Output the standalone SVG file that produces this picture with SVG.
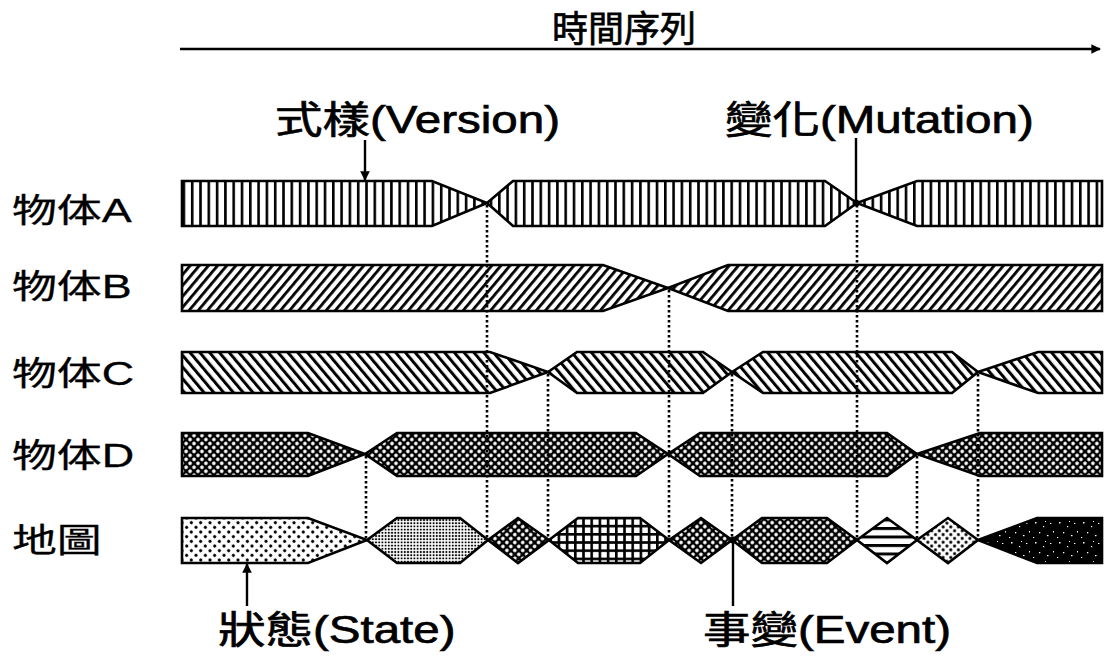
<svg xmlns="http://www.w3.org/2000/svg" width="1105" height="660" viewBox="0 0 1105 660">
<style>
.lbl{font-family:"Liberation Sans","Noto Sans CJK TC",sans-serif;fill:#000;stroke:#000;stroke-width:0.7}
.rl{font-family:"Liberation Sans","Noto Sans CJK TC",sans-serif;fill:#000;stroke:#000;stroke-width:0.3}
.seg{stroke:#000;stroke-width:2.6;stroke-linejoin:miter}
.dot{stroke:#000;stroke-width:2.6;stroke-dasharray:2.4 2.6;fill:none}
.ln{stroke:#000;stroke-width:2.4;fill:none}
</style>
<defs>
<pattern id="pA" patternUnits="userSpaceOnUse" width="8.3" height="10"><rect width="8.3" height="10" fill="#fff"/><rect x="0" y="0" width="2.6" height="10" fill="#000"/></pattern>
<pattern id="pB" patternUnits="userSpaceOnUse" width="7" height="10" patternTransform="rotate(40)"><rect width="7" height="10" fill="#fff"/><rect x="0" y="0" width="2.8" height="10" fill="#000"/></pattern>
<pattern id="pC" patternUnits="userSpaceOnUse" width="7.5" height="10" patternTransform="rotate(-40)"><rect width="7.5" height="10" fill="#fff"/><rect x="0" y="0" width="3" height="10" fill="#000"/></pattern>
<pattern id="pX" patternUnits="userSpaceOnUse" width="5.6" height="5.6" patternTransform="rotate(45)"><rect width="5.6" height="5.6" fill="#000"/><circle cx="2.8" cy="2.8" r="1.8" fill="#fff"/></pattern>
<pattern id="pDots" patternUnits="userSpaceOnUse" width="6.6" height="6.6" patternTransform="rotate(45)"><rect width="6.6" height="6.6" fill="#fff"/><circle cx="3.3" cy="3.3" r="1.6" fill="#000"/></pattern>
<pattern id="pFine" patternUnits="userSpaceOnUse" width="3.2" height="3.2"><rect width="3.2" height="3.2" fill="#fff"/><circle cx="1.6" cy="1.6" r="1.05" fill="#000"/></pattern>
<pattern id="pGrid" patternUnits="userSpaceOnUse" width="8.2" height="8.2"><rect width="8.2" height="8.2" fill="#fff"/><rect x="0" y="0" width="8.2" height="2.6" fill="#000"/><rect x="0" y="0" width="2.6" height="8.2" fill="#000"/></pattern>
<pattern id="pH" patternUnits="userSpaceOnUse" width="10" height="8.5"><rect width="10" height="8.5" fill="#fff"/><rect x="0" y="0" width="10" height="3" fill="#000"/></pattern>
<pattern id="pDots2" patternUnits="userSpaceOnUse" width="5.4" height="5.4" patternTransform="rotate(45)"><rect width="5.4" height="5.4" fill="#fff"/><circle cx="2.7" cy="2.7" r="1.6" fill="#000"/></pattern>
<pattern id="pStip" patternUnits="userSpaceOnUse" width="24" height="20"><rect width="24" height="20" fill="#000"/><rect x="3" y="2" width="1.5" height="1.5" fill="#fff"/><rect x="11" y="6" width="1.2" height="1.2" fill="#fff"/><rect x="18" y="3" width="1.4" height="1" fill="#fff"/><rect x="7" y="12" width="1.3" height="1.3" fill="#fff"/><rect x="15" y="15" width="1.5" height="1.2" fill="#fff"/><rect x="21" y="11" width="1" height="1.5" fill="#fff"/><rect x="1" y="17" width="1.2" height="1" fill="#fff"/><rect x="13" y="1" width="1" height="1" fill="#fff"/></pattern>
<marker id="ah" viewBox="0 0 10 10" refX="9" refY="5" markerWidth="4" markerHeight="4" orient="auto"><path d="M0,0 L10,5 L0,10 Z" fill="#000"/></marker>
</defs>
<rect width="1105" height="660" fill="#fff"/>

<g id="header">
<text class="lbl" x="624" y="42" font-size="36" text-anchor="middle">時間序列</text>
<line class="ln" x1="180" y1="49" x2="1100" y2="49" marker-end="url(#ah)"/>
</g>

<g id="row-labels">
<text class="rl" transform="translate(12,222) scale(1.36,1)" font-size="33">物体A</text>
<text class="rl" transform="translate(12,298) scale(1.36,1)" font-size="33">物体B</text>
<text class="rl" transform="translate(12,385) scale(1.36,1)" font-size="33">物体C</text>
<text class="rl" transform="translate(12,467) scale(1.36,1)" font-size="33">物体D</text>
<text class="rl" transform="translate(12,552) scale(1.36,1)" font-size="33">地圖</text>
</g>

<g id="objA">
<path class="seg" fill="url(#pA)" d="M182,181 L432,181 L487,203 L432,226 L182,226 Z"/>
<path class="seg" fill="url(#pA)" d="M487,203 L513,181 L825,181 L857,203 L825,226 L513,226 Z"/>
<path class="seg" fill="url(#pA)" d="M857,203 L917,181 L1102,181 L1102,226 L917,226 Z"/>
</g>
<g id="objB">
<path class="seg" fill="url(#pB)" d="M182,265 L603,265 L668,288 L603,311 L182,311 Z"/>
<path class="seg" fill="url(#pB)" d="M668,288 L728,265 L1102,265 L1102,311 L728,311 Z"/>
</g>
<g id="objC">
<path class="seg" fill="url(#pC)" d="M182,352 L490,352 L548,372 L490,393 L182,393 Z"/>
<path class="seg" fill="url(#pC)" d="M548,372 L577,352 L703,352 L732,372 L703,393 L577,393 Z"/>
<path class="seg" fill="url(#pC)" d="M732,372 L763,352 L952,352 L978,372 L952,393 L763,393 Z"/>
<path class="seg" fill="url(#pC)" d="M978,372 L1038,352 L1102,352 L1102,393 L1038,393 Z"/>
</g>
<g id="objD">
<path class="seg" fill="url(#pX)" d="M182,433 L308,433 L365,454 L308,476 L182,476 Z"/>
<path class="seg" fill="url(#pX)" d="M365,454 L397,433 L636,433 L668,454 L636,476 L397,476 Z"/>
<path class="seg" fill="url(#pX)" d="M668,454 L700,433 L887,433 L917,454 L887,476 L700,476 Z"/>
<path class="seg" fill="url(#pX)" d="M917,454 L980,433 L1102,433 L1102,476 L980,476 Z"/>
</g>
<g id="map">
<path class="seg" fill="url(#pDots)" d="M182,518 L308,518 L367,540 L308,563 L182,563 Z"/>
<path class="seg" fill="url(#pFine)" d="M367,540 L397,518 L460,518 L488,540 L460,563 L397,563 Z"/>
<path class="seg" fill="url(#pX)" d="M488,540 L518,518 L549,540 L518,563 Z"/>
<path class="seg" fill="url(#pGrid)" d="M549,540 L578,518 L640,518 L669,540 L640,563 L578,563 Z"/>
<path class="seg" fill="url(#pX)" d="M669,540 L701,518 L732,540 L701,563 Z"/>
<path class="seg" fill="url(#pX)" d="M732,540 L762,518 L827,518 L857,540 L827,563 L762,563 Z"/>
<path class="seg" fill="url(#pH)" d="M857,540 L887,518 L917,540 L887,563 Z"/>
<path class="seg" fill="url(#pDots2)" d="M917,540 L948,518 L978,540 L948,563 Z"/>
<path class="seg" fill="url(#pStip)" d="M978,540 L1037,518 L1102,518 L1102,563 L1037,563 Z"/>
</g>

<g id="connectors">
<line class="dot" x1="366" y1="456" x2="366" y2="538"/>
<line class="dot" x1="487" y1="205" x2="487" y2="538"/>
<line class="dot" x1="548" y1="374" x2="548" y2="538"/>
<line class="dot" x1="669" y1="290" x2="669" y2="538"/>
<line class="dot" x1="732" y1="374" x2="732" y2="538"/>
<line class="dot" x1="857" y1="205" x2="857" y2="538"/>
<line class="dot" x1="917" y1="456" x2="917" y2="538"/>
<line class="dot" x1="978" y1="374" x2="978" y2="538"/>
<line class="ln" x1="365" y1="140" x2="365" y2="180" marker-end="url(#ah)"/>
<line class="ln" x1="856" y1="138" x2="856" y2="203"/>
<circle cx="856" cy="203" r="3.5" fill="#000"/>
<line class="ln" x1="247" y1="606" x2="247" y2="564" marker-end="url(#ah)"/>
<line class="ln" x1="733" y1="540" x2="733" y2="606"/>
<circle cx="733" cy="540" r="3.5" fill="#000"/>
</g>

<g id="labels">
<text class="lbl" transform="translate(275,133) scale(1.25,1)" font-size="38">式樣(Version)</text>
<text class="lbl" transform="translate(725,133) scale(1.25,1)" font-size="38">變化(Mutation)</text>
<text class="lbl" transform="translate(218,643) scale(1.25,1)" font-size="38">狀態(State)</text>
<text class="lbl" transform="translate(703,643) scale(1.25,1)" font-size="38">事變(Event)</text>
</g>
</svg>
